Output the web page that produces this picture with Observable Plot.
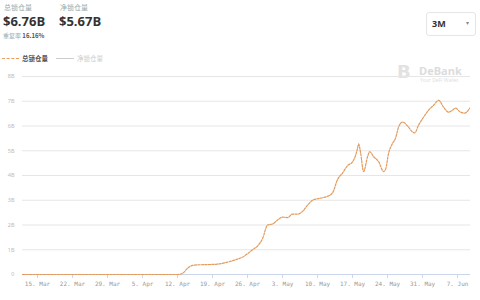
<!DOCTYPE html>
<html><head><meta charset="utf-8">
<script src="https://cdn.jsdelivr.net/npm/d3@7"></script>
<script src="https://cdn.jsdelivr.net/npm/@observablehq/plot@0.6"></script>
<style>
body{margin:0;width:480px;height:300px;background:#fff;font-family:"Noto Sans CJK SC","Noto Sans",sans-serif;position:relative;overflow:hidden}
.a{position:absolute;white-space:nowrap;line-height:1}
#chart{position:absolute;left:0;top:64px}
</style></head><body>
<div class="a" style="left:4px;top:4px;font-size:7px;color:#9aa">总锁仓量</div>
<div class="a" style="left:3px;top:15px;font-size:13px;font-weight:700;color:#333;font-family:'Open Sans',sans-serif">$6.76B</div>
<div class="a" style="left:60px;top:4px;font-size:7px;color:#9aa">净锁仓量</div>
<div class="a" style="left:59px;top:15px;font-size:13px;font-weight:700;color:#333;font-family:'Open Sans',sans-serif">$5.67B</div>
<div class="a" style="left:3px;top:33px;font-size:6px;color:#9aa">重复率 <span style="color:#555;font-weight:700">16.16%</span></div>
<div class="a" style="left:2px;top:58px;width:17px;border-top:1.5px dashed #e8a060"></div>
<div class="a" style="left:22px;top:55px;font-size:6.5px;color:#555;font-weight:700">总锁仓量</div>
<div class="a" style="left:56px;top:58px;width:18px;border-top:1px solid #ccc"></div>
<div class="a" style="left:77px;top:55px;font-size:6.5px;color:#ccc">净锁仓量</div>
<div class="a" style="left:426px;top:12px;width:50px;height:24px;border:1px solid #e6e6e6;border-radius:3px;box-sizing:border-box"></div>
<div class="a" style="left:432px;top:19px;font-size:9px;font-weight:700;color:#333;font-family:'Open Sans',sans-serif">3M</div>
<div class="a" style="left:466px;top:20px;font-size:6px;color:#888">▾</div>
<div class="a" style="left:397px;top:63px;font-size:18px;font-weight:900;color:#e2e2e2;font-family:'DejaVu Sans',sans-serif">B</div>
<div class="a" style="left:419px;top:65px;font-size:11px;font-weight:700;color:#dcdcdc;font-family:'Open Sans',sans-serif">DeBank</div>
<div class="a" style="left:420px;top:78px;font-size:5px;color:#dcdcdc;font-family:'Open Sans',sans-serif">Your DeFi Wallet</div>
<div id="chart"></div>
<script>
const dates = [
"2021-03-12T00:00","2021-03-20T00:00","2021-04-01T00:00","2021-04-12T00:00","2021-04-13T00:00","2021-04-14T00:00",
"2021-04-15T00:00","2021-04-16T00:00","2021-04-18T00:00","2021-04-20T00:00","2021-04-22T00:00","2021-04-24T00:00",
"2021-04-25T00:00","2021-04-26T00:00","2021-04-27T00:00","2021-04-28T00:00","2021-04-29T00:00","2021-04-30T00:00",
"2021-05-01T00:00","2021-05-02T00:00","2021-05-03T00:00","2021-05-04T00:00","2021-05-05T00:00","2021-05-06T00:00",
"2021-05-07T00:00","2021-05-08T00:00","2021-05-09T00:00","2021-05-10T00:00","2021-05-11T00:00","2021-05-12T00:00",
"2021-05-13T00:00","2021-05-14T00:00","2021-05-15T00:00","2021-05-16T00:00","2021-05-17T00:00","2021-05-17T14:00",
"2021-05-18T00:00","2021-05-18T05:00","2021-05-18T14:00","2021-05-19T05:00","2021-05-20T00:00","2021-05-20T10:00",
"2021-05-21T05:00","2021-05-22T05:00","2021-05-23T05:00","2021-05-23T14:00","2021-05-24T05:00","2021-05-25T00:00",
"2021-05-25T14:00","2021-05-26T05:00","2021-05-27T00:00","2021-05-28T00:00","2021-05-29T00:00","2021-05-29T10:00",
"2021-05-30T05:00","2021-05-31T05:00","2021-06-01T05:00","2021-06-02T05:00","2021-06-03T05:00","2021-06-04T05:00",
"2021-06-05T05:00","2021-06-06T00:00","2021-06-06T14:00","2021-06-07T14:00","2021-06-08T10:00","2021-06-09T10:00"
];
const tvl = [
0,0,0,0,0.05,0.25,
0.37,0.39,0.4,0.42,0.5,0.62,
0.7,0.84,1.0,1.15,1.45,2.0,
2.04,2.2,2.32,2.3,2.44,2.44,
2.55,2.8,3.0,3.06,3.1,3.16,
3.3,3.84,4.1,4.4,4.55,4.8,
5.1,5.28,4.95,4.16,4.76,4.96,
4.76,4.56,4.16,4.24,4.9,5.3,
5.5,5.96,6.16,6.0,5.76,5.72,
6.04,6.36,6.64,6.84,7.04,6.76,
6.56,6.64,6.72,6.56,6.52,6.72
];
const xTicks = ["2021-03-15","2021-03-22","2021-03-29","2021-04-05","2021-04-12","2021-04-19","2021-04-26",
"2021-05-03","2021-05-10","2021-05-17","2021-05-24","2021-05-31","2021-06-07"];
const yTicks = [0,1,2,3,4,5,6,7,8];
const xStart = "2021-03-12T00:00", xEnd = "2021-06-09T14:00";

const parse = s => new Date(s.length === 10 ? s + "T00:00" : s);
const data = dates.map((d, i) => ({date: parse(d), v: tvl[i]}));
const fmt = d3.timeFormat("%-d. %b");

const chart = Plot.plot({
  width: 480, height: 236,
  marginLeft: 22, marginRight: 10, marginTop: 12, marginBottom: 26,
  style: {background: "transparent"},
  x: {type: "time", domain: [parse(xStart), parse(xEnd)]},
  y: {domain: [0, 8]},
  marks: [
    Plot.gridY(yTicks.filter(d => d > 0), {stroke: "#e6e6e6", strokeOpacity: 1}),
    Plot.ruleY([0], {stroke: "#ccd6eb"}),
    Plot.axisX(xTicks.map(parse), {tickSize: 4, stroke: "#ccd6eb", strokeOpacity: 1, fill: "#999",
      tickFormat: fmt, fontSize: 6, fontFamily: "DejaVu Sans Mono", tickPadding: 3, label: null}),
    Plot.axisY(yTicks, {tickSize: 0, fill: "#c8b8a8", fontSize: 5.5, tickPadding: 8, label: null,
      tickFormat: d => d === 0 ? "0" : d + "B"}),
    Plot.lineY(data, {x: "date", y: "v", stroke: "#e39a5c", strokeWidth: 1.2,
      strokeDasharray: "2.2,1.3", curve: "monotone-x"})
  ]
});
document.getElementById("chart").appendChild(chart);
</script>
</body></html>
